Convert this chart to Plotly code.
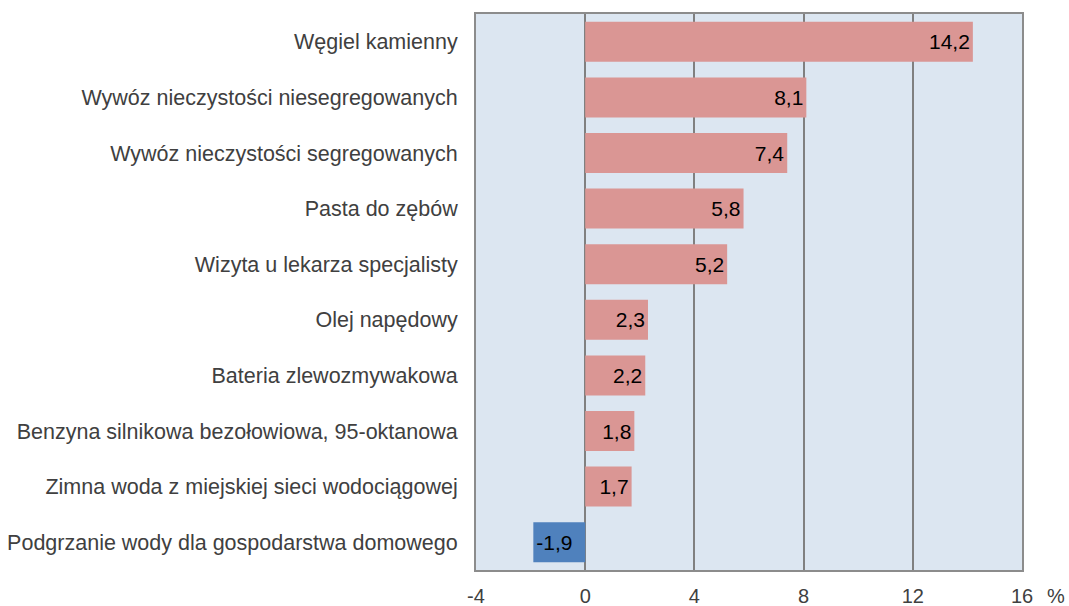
import plotly.graph_objects as go

categories = [
    "Węgiel kamienny",
    "Wywóz nieczystości niesegregowanych",
    "Wywóz nieczystości segregowanych",
    "Pasta do zębów",
    "Wizyta u lekarza specjalisty",
    "Olej napędowy",
    "Bateria zlewozmywakowa",
    "Benzyna silnikowa bezołowiowa, 95-oktanowa",
    "Zimna woda z miejskiej sieci wodociągowej",
    "Podgrzanie wody dla gospodarstwa domowego",
]
values = [14.2, 8.1, 7.4, 5.8, 5.2, 2.3, 2.2, 1.8, 1.7, -1.9]
tick_vals = [-4, 0, 4, 8, 12, 16]

colors = ["#DA9694" if v >= 0 else "#4F81BD" for v in values]
labels = [f"{v:.1f}".replace(".", ",") for v in values]

fig = go.Figure(go.Bar(
    y=categories, x=values, orientation="h",
    marker=dict(color=colors, line=dict(width=0)),
    text=labels, textposition="inside", insidetextanchor="end",
    textfont=dict(family="Liberation Sans, Arial", size=21, color="black"),
    textangle=0, cliponaxis=False,
))

fig.update_layout(
    width=1069, height=606,
    margin=dict(l=476, r=47, t=14, b=36, autoexpand=False),
    paper_bgcolor="white", plot_bgcolor="#DCE6F1",
    bargap=0.28,
    showlegend=False,
    separators=", ",
    font=dict(family="Liberation Sans, Arial", size=21, color="#404040"),
    xaxis=dict(
        range=[-4, 16], tickvals=tick_vals,
        ticktext=[str(t) for t in tick_vals],
        showgrid=True, gridcolor="#808080", gridwidth=2,
        zeroline=True, zerolinecolor="#808080", zerolinewidth=2,
        showline=True, linecolor="#8C8C8C", linewidth=2, mirror=True,
        ticks="", tickfont=dict(size=20, color="#404040"),
        ticklabelstandoff=7,
    ),
    yaxis=dict(
        autorange="reversed", showgrid=False,
        showline=True, linecolor="#8C8C8C", linewidth=2, mirror=True,
        ticks="", tickfont=dict(size=21.5, color="#404040"),
        ticklabelstandoff=12,
    ),
    annotations=[dict(
        text="%", xref="paper", yref="paper", x=1.0, y=0,
        xshift=34, yshift=-26, showarrow=False,
        font=dict(size=20, color="#404040"),
        xanchor="center", yanchor="middle",
    )],
)

fig.write_html("out.html", config={"displayModeBar": False},
               post_script="document.body.style.margin='0';document.body.style.overflow='hidden';")
